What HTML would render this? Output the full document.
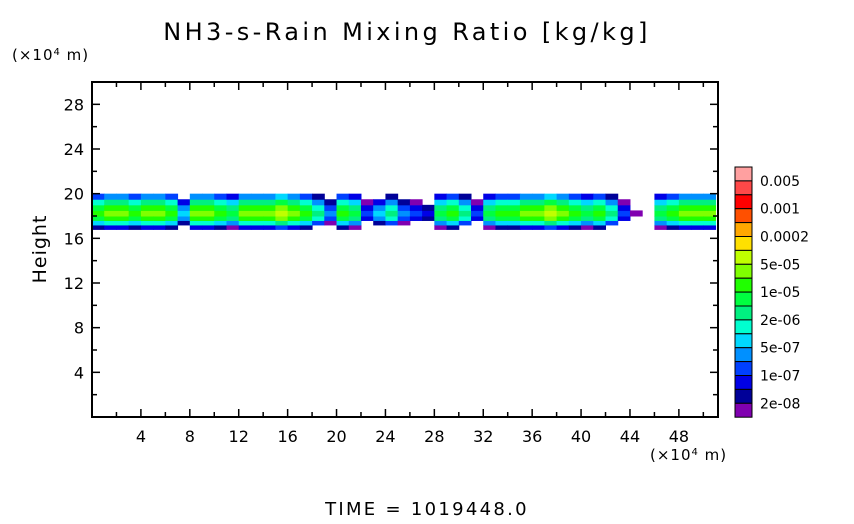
<!DOCTYPE html>
<html><head><meta charset="utf-8"><style>
html,body{margin:0;padding:0;background:#fff;}
svg text{font-family:"DejaVu Sans","Liberation Sans",sans-serif;fill:#000;}
</style></head><body>
<svg id="chart" width="854" height="519" viewBox="0 0 854 519" xmlns="http://www.w3.org/2000/svg">
<text x="407" y="40" text-anchor="middle" font-size="24" letter-spacing="3.4">NH3-s-Rain Mixing Ratio [kg/kg]</text>
<text x="12" y="60" font-size="15" letter-spacing="1">(×10<tspan dy="-5" font-size="10">4</tspan><tspan dy="5"> m)</tspan></text>
<text x="650" y="460" font-size="15" letter-spacing="1">(×10<tspan dy="-5" font-size="10">4</tspan><tspan dy="5"> m)</tspan></text>
<text transform="translate(46,249) rotate(-90)" text-anchor="middle" font-size="19" letter-spacing="1">Height</text>
<text x="427" y="515" text-anchor="middle" font-size="18" letter-spacing="2.3" fill="#333">TIME = 1019448.0</text>
<g id="cells"></g>
<g id="axes"></g>
<g id="cbar"></g>
</svg>
<script>
// x columns (×10^4 m, left edge of 1-unit column) and peak colour level per column (1..18)
const xCols = [0,1,2,3,4,5,6,7,8,9,10,11,12,13,14,15,16,17,18,19,20,21,22,23,24,25,26,27,28,29,30,31,32,33,34,35,36,37,38,39,40,41,42,43,44,45,46,47,48,49,50];
const peakLevel = [10,11,11,10,11,11,10,6,11,11,10,9,11,11,11,12,11,10,8,5,10,9,4,6,8,5,4,3,9,10,8,4,9,10,10,11,11,12,11,10,9,10,8,4,1,0,9,10,11,11,11];
// vertical rows (height bottom, ×10^4 m) and level drop from the core
const rowBottoms = [16.8,17.2,17.6,18.0,18.5,19.0,19.5];
const rowDrop = [8,4,1,0,1,3,6];
const yTicks = [4,8,12,16,20,24,28];
const xTicks = [4,8,12,16,20,24,28,32,36,40,44,48];
const levelColors = ["#8000b0","#000098","#0000e6","#0040ff","#0090ff","#00d8ff","#00ffd0","#00f080","#00ff40","#20ff00","#80ff00","#c0ff00","#ffe000","#ffa800","#ff5000","#ff0000","#ff4848","#ffa0a0"];
const cbarLabels = ["0.005","0.001","0.0002","5e-05","1e-05","2e-06","5e-07","1e-07","2e-08"];

const X0=92,X1=718,Y0=417,Y1=82,XMAX=51.2,YMAX=30;
const sx=v=>X0+(v/XMAX)*(X1-X0);
const sy=v=>Y0-(v/YMAX)*(Y0-Y1);
const NS="http://www.w3.org/2000/svg";
function mk(tag,attrs,parent){const e=document.createElementNS(NS,tag);for(const k in attrs)e.setAttribute(k,attrs[k]);parent.appendChild(e);return e;}

const cells=document.getElementById('cells');
xCols.forEach((x,i)=>{
  rowBottoms.forEach((yb,j)=>{
    const lv=peakLevel[i]-rowDrop[j];
    if(lv<=0) return;
    const yt=j+1<rowBottoms.length?rowBottoms[j+1]:20.0;
    const r=mk('rect',{x:sx(x),y:sy(yt),width:sx(x+1)-sx(x)+0.5,height:sy(yb)-sy(yt)+0.5,fill:levelColors[lv-1]},cells);
    
    
  });
});

const ax=document.getElementById('axes');
const frame=mk('rect',{x:X0,y:Y1,width:X1-X0,height:Y0-Y1,fill:'none',stroke:'#000','stroke-width':2},ax);


for(let v=2;v<YMAX;v+=2){
  const maj=yTicks.includes(v),L=maj?8:5,y=sy(v);
  mk('line',{x1:X0,x2:X0+L,y1:y,y2:y,stroke:'#000','stroke-width':1.5},ax);
  mk('line',{x1:X1,x2:X1-L,y1:y,y2:y,stroke:'#000','stroke-width':1.5},ax);
}
for(let v=2;v<XMAX;v+=2){
  const maj=xTicks.includes(v),L=maj?8:5,x=sx(v);
  mk('line',{x1:x,x2:x,y1:Y0,y2:Y0-L,stroke:'#000','stroke-width':1.5},ax);
  mk('line',{x1:x,x2:x,y1:Y1,y2:Y1+L,stroke:'#000','stroke-width':1.5},ax);
}
yTicks.forEach(v=>{
  const t=mk('text',{x:X0-8,y:sy(v)+6,'text-anchor':'end','font-size':16},ax);
  t.textContent=v;
  
  
});
xTicks.forEach(v=>{
  const t=mk('text',{x:sx(v),y:Y0+25,'text-anchor':'middle','font-size':16},ax);
  t.textContent=v;
  
  
});

const cb=document.getElementById('cbar');
const CBX=735,CBW=17,CBT=167,CBH=13.9;
for(let k=0;k<levelColors.length;k++){
  const lv=levelColors.length-1-k;
  const r=mk('rect',{x:CBX,y:CBT+k*CBH,width:CBW,height:CBH,fill:levelColors[lv],stroke:'#000','stroke-width':1},cb);
  
  
}
cbarLabels.forEach((s,i)=>{
  const t=mk('text',{x:760,y:CBT+(2*i+1)*CBH+5,'font-size':14},cb);
  t.textContent=s;
  
  
});
</script>
</body></html>
